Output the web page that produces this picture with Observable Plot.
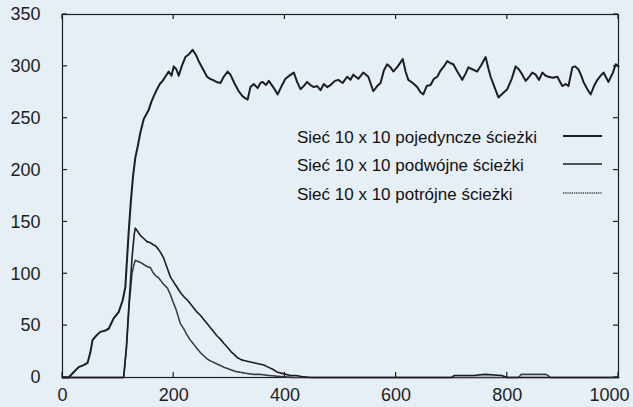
<!DOCTYPE html>
<html><head><meta charset="utf-8">
<script src="https://cdn.jsdelivr.net/npm/d3@7"></script>
<script src="https://cdn.jsdelivr.net/npm/@observablehq/plot@0.6"></script>
<style>
html,body{margin:0;padding:0;background:#e6eef6;}
#chart{width:633px;height:407px;position:relative;}
</style></head><body><div id="chart"></div>
<script>
const seriesNames = ["Sieć 10 x 10 pojedyncze ścieżki", "Sieć 10 x 10 podwójne ścieżki", "Sieć 10 x 10 potrójne ścieżki"];
const xTicks = [0, 200, 400, 600, 800, 1000];
const yTicks = [0, 50, 100, 150, 200, 250, 300, 350];

const singleT = [0,11,20,29,38,45,50,54,60,68,76,83,92,101,108,113,119,123,127,131,135,140,146,151,155,160,164,170,175,180,185,191,196,200,205,209,215,221,228,234,240,245,252,260,265,270,277,284,290,297,302,309,317,324,333,338,344,351,356,360,366,371,379,387,394,401,408,416,422,428,434,440,446,452,458,464,470,476,482,490,496,504,512,518,523,532,541,550,559,566,572,578,584,590,595,603,612,617,622,630,638,644,649,655,662,668,674,680,686,692,698,703,710,719,725,730,738,746,753,761,766,770,777,784,792,800,808,815,821,827,833,838,845,851,857,863,869,874,882,890,895,899,905,910,917,922,928,933,937,944,950,956,962,968,973,978,982,990,995,1000];
const singleV = [0,0,5,10,12,14,24,36,40,44,45,47,57,63,74,87,140,170,195,212,222,236,249,254,258,266,271,278,283,286,290,295,291,300,297,291,301,309,312,316,311,305,298,290,288,287,285,284,290,295,292,284,276,271,268,280,283,279,284,285,282,286,280,273,281,288,291,294,285,278,281,285,282,280,281,277,283,280,282,286,287,284,290,287,292,288,294,290,276,281,284,296,302,299,295,300,307,295,287,284,280,275,273,281,282,288,290,296,300,305,303,302,295,287,293,299,297,295,301,309,298,290,280,270,274,278,288,300,297,292,286,289,294,292,287,294,291,290,289,290,285,281,283,281,299,300,297,291,285,278,273,281,287,291,294,289,285,294,302,300];

const doubleT = [0,110,115,120,125,129,131,135,140,146,152,158,163,167,172,177,182,188,194,200,206,212,218,224,230,236,242,248,254,260,266,272,278,284,290,297,303,309,315,322,330,338,346,354,362,370,378,387,395,402,410,420,430,446,700,705,740,760,790,800,1000];
const doubleV = [0,0,30,75,115,138,144,141,137,134,131,130,128,127,124,120,115,106,97,92,87,82,78,75,71,67,63,60,56,52,48,44,40,37,33,29,25,22,19,17,16,15,14,13,12,10,8,5,4,3,2,2,1,0,0,2,2,3,2,0,0];

const tripleT = [0,110,115,120,125,129,131,135,140,146,152,158,163,168,173,180,189,194,198,204,208,212,218,224,230,236,242,248,254,260,266,274,282,290,300,310,320,330,345,356,370,392,416,820,825,870,878,1000];
const tripleV = [0,0,28,70,100,110,113,112,111,109,107,106,101,98,96,91,86,80,74,66,59,52,47,41,36,32,28,24,21,18,16,14,12,10,8,6,5,4,3,3,2,1,0,0,3,3,0,0];

const toRows = (T, V) => T.map((t, i) => ({t, v: V[i]}));
const single = toRows(singleT, singleV);
const dbl = toRows(doubleT, doubleV);
const trip = toRows(tripleT, tripleV);

const ink = "#1e1e22";
const font = "'Liberation Sans', Arial, sans-serif";
const fmt = d => String(d);
const plot = Plot.plot({
  width: 633, height: 407,
  marginLeft: 62, marginRight: 15, marginTop: 14, marginBottom: 30,
  style: {background: "transparent", fontFamily: font, fontSize: "18px", color: ink},
  x: {domain: [0, 1000]},
  y: {domain: [0, 350]},
  marks: [
    Plot.frame({stroke: ink, strokeWidth: 1.2}),
    Plot.axisX({ticks: xTicks.slice(0, -1), tickFormat: fmt, tickSize: 0, tickPadding: 11, label: null, anchor: "bottom"}),
    Plot.axisX({ticks: xTicks.slice(-1), tickFormat: fmt, tickSize: 0, tickPadding: 11, dx: -9, label: null, anchor: "bottom"}),
    Plot.axisY({ticks: yTicks, tickFormat: fmt, tickSize: 0, tickPadding: 22, label: null, anchor: "left"}),
    Plot.line(trip, {x: "t", y: "v", stroke: "#3a3a40", strokeWidth: 1.6, strokeDasharray: "1.2,1"}),
    Plot.line(dbl, {x: "t", y: "v", stroke: ink, strokeWidth: 1.6}),
    Plot.line(single, {x: "t", y: "v", stroke: ink, strokeWidth: 2})
  ]
});
document.getElementById("chart").appendChild(plot);

const svg = d3.select(plot);
const sx = plot.scale("x"), sy = plot.scale("y");
const x0 = sx.range[0], x1 = sx.range[1], yb = sy.range[0], yt = sy.range[1];
// inward tick marks on all four sides
const tg = svg.append("g").attr("stroke", ink).attr("stroke-width", 1.2);
xTicks.forEach(v => {
  const px = sx.apply(v);
  tg.append("line").attr("x1", px).attr("x2", px).attr("y1", yb).attr("y2", yb - 5);
  tg.append("line").attr("x1", px).attr("x2", px).attr("y1", yt).attr("y2", yt + 5);
});
yTicks.forEach(v => {
  const py = sy.apply(v);
  tg.append("line").attr("x1", x0).attr("x2", x0 + 5).attr("y1", py).attr("y2", py);
  tg.append("line").attr("x1", x1).attr("x2", x1 - 5).attr("y1", py).attr("y2", py);
});

// legend inside the plot area
const lg = svg.append("g").attr("font-family", font).attr("font-size", 17).attr("fill", "#111").attr("text-anchor", "start");
const legendStyles = [
  {w: 2, dash: null, stroke: ink},
  {w: 1.6, dash: null, stroke: ink},
  {w: 1.6, dash: "1.2,1", stroke: "#3a3a40"}
];
const rowY = [137, 165, 194];
seriesNames.forEach((name, i) => {
  lg.append("text").attr("x", 297).attr("y", rowY[i]).attr("dy", "0.35em").attr("text-anchor", "start").text(name);
  const l = lg.append("line").attr("x1", 563).attr("x2", 602).attr("y1", rowY[i] - 1).attr("y2", rowY[i] - 1)
    .attr("stroke", legendStyles[i].stroke).attr("stroke-width", legendStyles[i].w);
  if (legendStyles[i].dash) l.attr("stroke-dasharray", legendStyles[i].dash);
});
</script></body></html>
